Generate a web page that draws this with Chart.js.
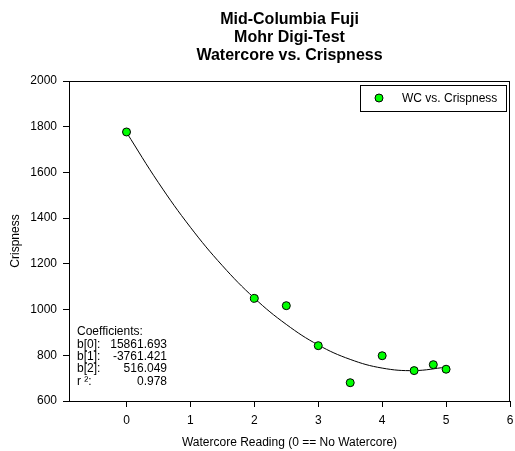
<!DOCTYPE html>
<html>
<head>
<meta charset="utf-8">
<script src="https://cdn.jsdelivr.net/npm/chart.js@4/dist/chart.umd.min.js"></script>
<style>
  html, body { margin: 0; padding: 0; background: #fff; }
  #wrap { width: 515px; height: 451px; }
</style>
</head>
<body>
<div id="wrap"><canvas id="scatterChart"></canvas></div>
<script>
// measured points
const watercore = [0, 2, 2.5, 3, 3.5, 4, 4.5, 4.8, 5]
const crispness = [1777, 1049, 1017, 842, 680, 798, 733, 759, 739]

// fitted curve
const fitX = [0, 0.5, 1, 1.5, 2, 2.5, 3, 3.5, 4, 4.5, 5]
const fitY = [1775, 1555, 1360, 1192, 1050, 935, 845, 782, 744, 733, 748]

const titleLines = ['Mid-Columbia Fuji', 'Mohr Digi-Test', 'Watercore vs. Crispness']
const coefLabels = ['b[0]:', 'b[1]:', 'b[2]:', 'r \u00b2:']
const coefValues = ['15861.693', '-3761.421', '516.049', '0.978']

const FONT = 'Arial, "Liberation Sans", sans-serif'
Chart.defaults.font.family = FONT
Chart.defaults.font.size = 12
Chart.defaults.color = '#000'

const points = watercore.map((x, i) => ({ x: x, y: crispness[i] }))
const curve = fitX.map((x, i) => ({ x: x, y: fitY[i] }))

// box round the plot, legend with a border, coefficient text
const extras = {
  id: 'extras',
  beforeDatasetsDraw(chart) {
    const { ctx, chartArea: a } = chart
    ctx.save()
    ctx.strokeStyle = '#000'
    ctx.lineWidth = 1
    ctx.strokeRect(a.left + 0.5, a.top + 0.5, a.right - a.left - 1, a.bottom - a.top)
    ctx.restore()
  },
  afterDraw(chart) {
    const { ctx, chartArea: a } = chart
    const ds = chart.data.datasets[0]
    ctx.save()
    // legend
    const bx = a.left + 291, by = a.top + 4, bw = 146, bh = 26
    ctx.fillStyle = '#fff'
    ctx.fillRect(bx, by, bw, bh)
    ctx.strokeStyle = '#000'
    ctx.lineWidth = 1
    ctx.strokeRect(bx + 0.5, by + 0.5, bw, bh)
    ctx.beginPath()
    ctx.arc(bx + 19, by + 13, 4, 0, Math.PI * 2)
    ctx.fillStyle = ds.backgroundColor
    ctx.fill()
    ctx.stroke()
    ctx.fillStyle = '#000'
    ctx.font = '12px ' + FONT
    ctx.textBaseline = 'middle'
    ctx.textAlign = 'left'
    ctx.fillText(ds.label, bx + 42, by + 14)
    // coefficients
    const cx = a.left + 8
    let cy = 332
    ctx.fillText('Coefficients:', cx, cy)
    coefLabels.forEach((lab, i) => {
      cy += 12.3
      ctx.textAlign = 'left'
      ctx.fillText(lab, cx, cy)
      ctx.textAlign = 'right'
      ctx.fillText(coefValues[i], cx + 90, cy)
    })
    ctx.restore()
  }
}

const ctx = document.getElementById('scatterChart').getContext('2d')
const myChart = new Chart(ctx, {
  type: 'scatter',
  data: {
    datasets: [
      {
        label: 'WC vs. Crispness',
        data: points,
        backgroundColor: '#00ff00',
        borderColor: '#000',
        borderWidth: 1,
        pointRadius: 4,
        order: 1
      },
      {
        label: 'fit',
        type: 'line',
        data: curve,
        borderColor: '#000',
        borderWidth: 1,
        pointRadius: 0,
        tension: 0.4,
        fill: false,
        order: 2
      }
    ]
  },
  options: {
    responsive: true,
    maintainAspectRatio: false,
    animation: false,
    layout: { padding: { left: 0, right: 2, top: 0, bottom: 0 } },
    plugins: {
      legend: { display: false },
      tooltip: { enabled: false },
      title: {
        display: true,
        text: titleLines,
        fullSize: false,
        color: '#000',
        font: { size: 16, weight: 'bold', lineHeight: 1.125 },
        padding: { top: 11, bottom: 16 }
      }
    },
    scales: {
      x: {
        type: 'linear',
        min: -0.9,
        max: 6,
        ticks: { stepSize: 1, padding: 6, color: '#000', maxRotation: 0, callback: v => String(v) },
        afterBuildTicks: s => { s.ticks = s.ticks.filter(t => t.value >= 0) },
        afterFit: s => { s.height = 50; s.paddingRight = 0 },
        grid: { display: true, drawOnChartArea: false, tickLength: 6, color: '#000' },
        border: { display: true, color: '#000', width: 1 },
        title: { display: true, text: 'Watercore Reading (0 == No Watercore)', color: '#000', padding: 1 }
      },
      y: {
        min: 600,
        max: 2000,
        ticks: { stepSize: 200, padding: 6, color: '#000', callback: v => String(v) },
        afterFit: s => { s.width = 69 },
        grid: { display: true, drawOnChartArea: false, tickLength: 6, color: '#000' },
        border: { display: true, color: '#000', width: 1 },
        title: { display: true, text: 'Crispness', color: '#000', padding: 8 }
      }
    }
  },
  plugins: [extras]
})
</script>
</body>
</html>
